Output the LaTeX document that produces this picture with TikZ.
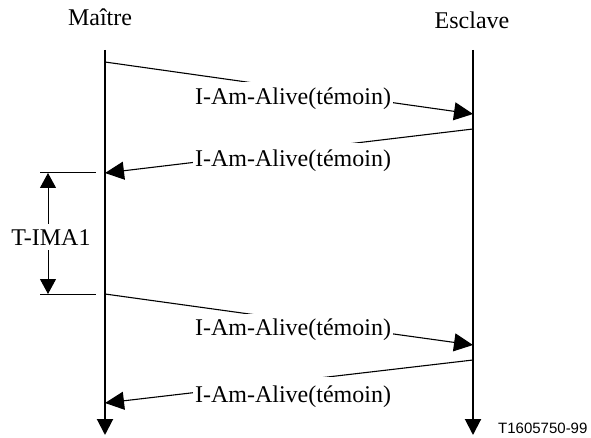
\documentclass[tikz,border=0pt]{standalone}
\usepackage{fontspec}
\setmainfont{Liberation Serif}
\newfontfamily\arialf{Liberation Sans}
\usetikzlibrary{arrows.meta}
\tikzset{
  lifeline/.style={line width=2pt,-{Triangle[length=16pt,width=16pt]}},
  msg/.style={line width=1.1pt,-{Triangle[length=19pt,width=18pt]}},
  thinline/.style={line width=1pt},
  dimarrow/.style={line width=1pt,{Triangle[length=15pt,width=16pt]}-{Triangle[length=15pt,width=16pt]}},
  lbl/.style={fill=white,inner xsep=2pt,inner ysep=6pt,anchor=base},
}
\begin{document}
\begin{tikzpicture}[x=1pt,y=-1pt,font=\fontsize{24}{28}\selectfont]
\useasboundingbox (0,0) rectangle (591,438);
% lifelines
\coordinate (mtop) at (105,50);
\coordinate (mbot) at (105,435);
\coordinate (stop) at (473,50);
\coordinate (sbot) at (473,435);
\draw[lifeline] (mtop) -- (mbot);
\draw[lifeline] (stop) -- (sbot);
\node[anchor=base] (maitre) at (100,26) {Maître};
\node[anchor=base] (esclave) at (472,29) {Esclave};
% messages
\coordinate (m1) at (105,62);  \coordinate (s1) at (473,114);
\coordinate (s2) at (473,129); \coordinate (m2) at (105,173);
\coordinate (m3) at (105,294); \coordinate (s3) at (473,345);
\coordinate (s4) at (473,360); \coordinate (m4) at (105,403);
\draw[msg] (m1) -- (s1);
\draw[msg] (s2) -- (m2);
\draw[msg] (m3) -- (s3);
\draw[msg] (s4) -- (m4);
\node[lbl] (l1) at (293,105) {I-Am-Alive(témoin)};
\node[lbl,inner ysep=7pt] (l2) at (293,167) {I-Am-Alive(témoin)};
\node[lbl,inner ysep=4pt] (l3) at (293,335) {I-Am-Alive(témoin)};
\node[lbl,inner ysep=8pt] (l4) at (293,402) {I-Am-Alive(témoin)};
% T-IMA1 dimension
\coordinate (d1l) at (40,173); \coordinate (d1r) at (96,173);
\coordinate (d2l) at (40,294); \coordinate (d2r) at (96,294);
\coordinate (a1) at (48,173); \coordinate (a2) at (48,294);
\draw[thinline] (d1l) -- (d1r);
\draw[thinline] (d2l) -- (d2r);
\draw[dimarrow] (a1) -- (a2);
\node[fill=white,inner xsep=1pt,inner ysep=5pt,anchor=base] (tima) at (51,245) {T-IMA1};
% reference
\node[anchor=base west,inner sep=0pt,font=\arialf\fontsize{15}{18}\selectfont] (ref) at (498,433) {T1605750-99};
\end{tikzpicture}
\end{document}
